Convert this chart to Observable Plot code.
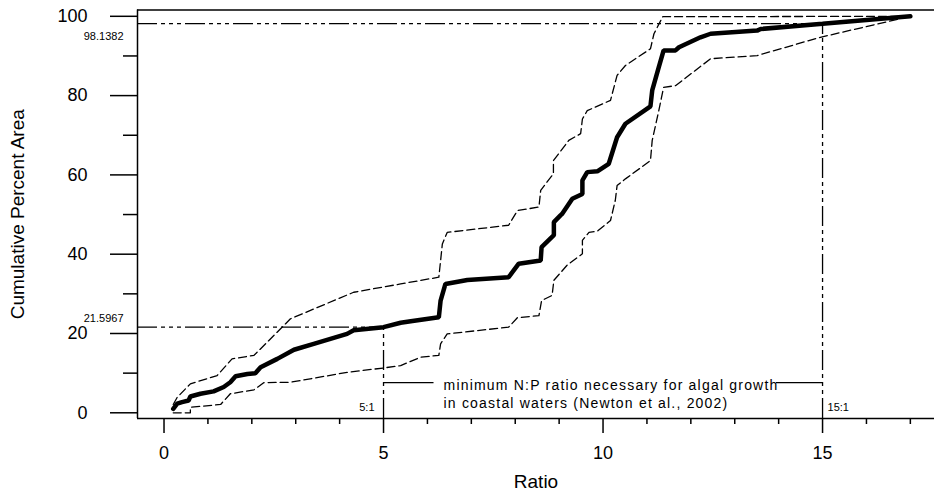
<!DOCTYPE html>
<html>
<head>
<meta charset="utf-8">
<script src="https://cdn.jsdelivr.net/npm/d3@7"></script>
<script src="https://cdn.jsdelivr.net/npm/@observablehq/plot@0.6"></script>
<style>
  html, body { margin: 0; padding: 0; background: #fff; }
  #chart svg { display: block; }
</style>
</head>
<body>
<div id="chart"></div>
<script>
// ---- data ----
// cumulative percent area vs N:P ratio (thick median curve)
const medianCurve = [
  [0.21,1.0],[0.30,2.3],[0.41,2.7],[0.56,3.1],[0.60,4.1],[0.83,4.8],[1.13,5.4],[1.36,6.5],
  [1.51,7.7],[1.63,9.2],[1.90,9.8],[2.08,10.0],[2.20,11.5],[2.58,13.6],[2.96,15.9],[3.41,17.4],
  [4.17,19.9],[4.32,20.8],[5.00,21.6],[5.39,22.7],[5.62,23.1],[6.26,24.1],[6.30,28.3],[6.41,32.5],
  [6.91,33.5],[7.85,34.2],[8.08,37.6],[8.58,38.4],[8.60,41.8],[8.88,44.8],[8.88,48.1],[9.03,49.8],
  [9.07,50.2],[9.30,54.0],[9.53,55.2],[9.53,58.6],[9.64,60.7],[9.87,60.9],[10.13,62.8],[10.32,69.5],
  [10.51,72.9],[11.08,77.3],[11.12,81.3],[11.27,87.2],[11.38,91.4],[11.65,91.4],[11.73,92.2],
  [12.22,94.7],[12.45,95.6],[13.51,96.4],[13.59,96.8],[15.00,98.1],[17.00,100]
];
// upper confidence bound (dashed)
const upperBound = [
  [0.21,2.1],[0.30,3.9],[0.60,7.3],[1.21,9.4],[1.55,13.6],[2.05,14.5],[2.16,15.7],[2.88,23.7],
  [4.32,30.4],[5.39,32.5],[6.26,34.2],[6.34,42.6],[6.45,45.5],[7.85,47.3],[8.05,51.0],[8.54,51.9],
  [8.58,56.1],[8.87,60.3],[8.87,63.6],[9.22,68.7],[9.49,70.4],[9.53,74.1],[9.64,76.2],[10.17,78.8],
  [10.32,85.1],[10.51,87.6],[11.08,91.8],[11.16,95.6],[11.36,99.9],[17.00,100]
];
// lower confidence bound (dashed)
const lowerBound = [
  [0.21,0],[0.60,0],[0.60,1.4],[1.29,2.1],[1.51,4.8],[2.05,5.8],[2.27,7.6],[2.88,7.7],[4.17,10.2],
  [5.00,11.3],[5.39,11.9],[5.84,14.0],[6.26,14.5],[6.30,17.4],[6.45,19.9],[7.85,21.6],[8.05,24.0],
  [8.54,24.5],[8.60,28.3],[8.84,29.6],[8.88,33.4],[9.18,37.2],[9.53,40.1],[9.53,43.5],[9.68,45.5],
  [9.87,45.8],[10.17,48.5],[10.28,53.6],[10.32,57.3],[10.51,59.0],[11.08,63.6],[11.12,68.7],
  [11.27,76.2],[11.38,82.1],[11.65,82.5],[12.45,89.3],[13.51,90.1],[14.95,94.7],[17.00,100]
];
// reference ratios and their cumulative percent
const refRatios = [5, 15];
const refPercents = [21.5967, 98.1382];
const refRatioLabels = ["5:1", "15:1"];
const refPercentLabels = ["21.5967", "98.1382"];
// annotation
const annotationLines = ["minimum N:P ratio necessary for algal growth", "in coastal waters (Newton et al., 2002)"];
const annotationLevel = 7.6;
const annotationSegments = [[5, 6.15], [13.95, 15]];
// axes
const xMajorTicks = [0, 5, 10, 15];
const xMinorTicks = [1, 2, 3, 4, 6, 7, 8, 9, 11, 12, 13, 14, 16, 17];
const yMajorTicks = [0, 20, 40, 60, 80, 100];
const yMinorTicks = [10, 30, 50, 70, 90];
const xLabel = "Ratio";
const yLabel = "Cumulative Percent Area";

// ---- build ----
const xDomain = [-0.604, 17.55];
const yDomain = [-1.44, 101.59];
const refs = refRatios.map((r, i) => ({ratio: r, pct: refPercents[i], rl: refRatioLabels[i], pl: refPercentLabels[i]}));
const segs = annotationSegments.map(([a, b]) => ({x1: a, x2: b, y: annotationLevel}));
const dashDot = "20,4,4,4,4,4,4,4";
const font = "'Liberation Sans', Arial, Helvetica, sans-serif";

const chart = Plot.plot({
  width: 934,
  height: 495,
  marginLeft: 137,
  marginRight: 0,
  marginTop: 9.5,
  marginBottom: 77,
  style: {fontFamily: font, fontSize: "18px", color: "#000", background: "#fff", overflow: "visible"},
  x: {domain: xDomain},
  y: {domain: yDomain},
  marks: [
    // frame (left, bottom, top)
    Plot.ruleX([xDomain[0]], {strokeWidth: 1.5}),
    Plot.ruleY([yDomain[0], yDomain[1]], {strokeWidth: 1.5}),
    // axes
    Plot.axisY({ticks: yMajorTicks, tickSize: 27, tickPadding: 23, label: null, strokeWidth: 1.5}),
    Plot.axisY({ticks: yMinorTicks, tickSize: 14, text: null, label: null, strokeWidth: 1.5}),
    Plot.axisX({ticks: xMajorTicks, tickSize: 15, tickPadding: 13, label: null, strokeWidth: 1.5}),
    Plot.axisX({ticks: xMinorTicks, tickSize: 6, text: null, label: null, strokeWidth: 1.5}),
    // reference dash-dot lines
    Plot.ruleY(refs, {y: "pct", x1: xDomain[0], x2: "ratio", strokeDasharray: dashDot, strokeWidth: 1.3}),
    Plot.ruleX(refs, {x: "ratio", y1: yDomain[0], y2: "pct", strokeDasharray: dashDot, strokeWidth: 1.3}),
    // reference labels
    Plot.text(refs.filter(d => d.ratio === 5), {x: "ratio", text: "rl", frameAnchor: "bottom", lineAnchor: "middle", dy: -11, dx: -9, textAnchor: "end", fontSize: 11}),
    Plot.text(refs.filter(d => d.ratio === 15), {x: "ratio", text: "rl", frameAnchor: "bottom", lineAnchor: "middle", dy: -11, dx: 5, textAnchor: "start", fontSize: 11}),
    Plot.text(refs.filter(d => d.ratio === 5), {y: "pct", text: "pl", frameAnchor: "left", dx: -14, dy: -9, textAnchor: "end", fontSize: 11}),
    Plot.text(refs.filter(d => d.ratio === 15), {y: "pct", text: "pl", frameAnchor: "left", dx: -14, dy: 13, textAnchor: "end", fontSize: 11}),
    // annotation
    Plot.ruleY(segs, {y: "y", x1: "x1", x2: "x2", strokeWidth: 1.3}),
    Plot.text([annotationLines.join("\n")], {x: 5, y: annotationLevel, dx: 60, textAnchor: "start", lineAnchor: "top", dy: -5, lineHeight: 1.25, fontSize: 14, ariaLabel: "annotation"}),
    // curves
    Plot.line(upperBound, {strokeWidth: 1.3, strokeDasharray: "8,4"}),
    Plot.line(lowerBound, {strokeWidth: 1.3, strokeDasharray: "8,4"}),
    Plot.line(medianCurve, {strokeWidth: 4.5, strokeLinejoin: "miter"}),
    // axis titles
    Plot.text([yLabel], {frameAnchor: "left", dx: -120, rotate: -90, textAnchor: "middle", lineAnchor: "middle", fontSize: 19}),
    Plot.text([xLabel], {frameAnchor: "bottom", dy: 63, textAnchor: "middle", lineAnchor: "middle", fontSize: 19})
  ]
});
// slightly spaced-out lettering of the annotation, as in the reference
d3.select(chart).selectAll("text")
  .filter(function() { return this.textContent.includes("Newton"); })
  .attr("letter-spacing", "1.2px");
document.getElementById("chart").appendChild(chart);
</script>
</body>
</html>
